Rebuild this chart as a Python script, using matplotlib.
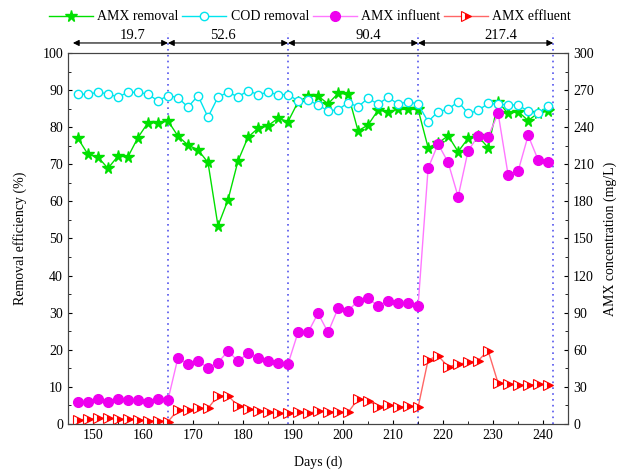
import matplotlib
matplotlib.use("Agg")
import matplotlib.pyplot as plt
import numpy as np
from matplotlib.ticker import MultipleLocator

plt.rcParams['font.family'] = ['Liberation Serif', 'DejaVu Serif']
plt.rcParams['font.size'] = 10

# Jours (un point tous les 2 jours)
days = np.arange(147, 242, 2)

amx_removal = [77.0, 72.7, 72.0, 68.9, 72.2, 72.0, 77.2, 81.2, 81.2, 81.7,
               77.6, 75.2, 73.9, 70.5, 53.4, 60.4, 70.9, 77.3, 79.7, 80.4, 82.4, 81.5,
               86.8, 88.4, 88.4, 86.3, 89.1, 88.9, 79.0, 80.6, 84.6, 84.2, 84.8, 84.8, 84.8,
               74.5, 75.7, 77.7, 73.4, 77.0, 77.5, 74.5, 86.8, 83.7, 84.2, 81.8, 83.8, 84.4]

cod_removal = [88.9, 88.9, 89.4, 89.0, 88.1, 89.4, 89.4, 88.9, 87.1, 88.5,
               88.0, 85.4, 88.5, 82.7, 88.1, 89.4, 88.2, 89.8, 88.8, 89.4, 88.8, 88.8,
               87.1, 87.3, 86.0, 84.4, 84.7, 86.6, 85.5, 87.8, 86.2, 88.1, 86.2, 86.9, 86.2,
               81.5, 84.2, 84.8, 86.9, 83.7, 84.5, 86.4, 86.2, 86.0, 86.0, 84.3, 83.7, 85.6]

amx_influent = [18.0, 17.5, 20.2, 17.5, 20.0, 19.4, 19.4, 18.0, 20.2, 19.4,
                53.6, 48.3, 50.9, 45.5, 49.6, 59.0, 50.9, 57.2, 53.6, 50.9, 49.6, 48.5,
                74.1, 74.1, 89.5, 74.1, 93.5, 91.6, 99.5, 101.6, 95.4, 99.7, 98.1, 98.1, 95.4,
                206.8, 226.4, 211.6, 183.8, 221.0, 232.9, 232.3, 251.2, 201.3, 204.6, 233.3, 213.5, 212.1]

amx_effluent = [3.2, 4.0, 4.6, 4.6, 4.0, 4.0, 3.2, 2.4, 2.4, 1.9,
                11.3, 11.3, 12.7, 12.7, 22.9, 22.9, 14.6, 12.1, 10.5, 9.4, 8.6, 8.6,
                9.4, 8.6, 10.5, 10.0, 9.4, 9.4, 20.2, 18.9, 14.0, 15.4, 13.5, 14.8, 13.5,
                51.8, 55.2, 46.3, 48.3, 49.9, 51.2, 59.3, 32.9, 32.3, 31.5, 31.5, 32.1, 31.5]

# Phases (limites en jours) et charges
phase_bounds = [146, 165, 189, 215, 242]
phase_labels = ["19.7", "52.6", "90.4", "217.4"]
label_pos = [158, 176, 205, 231.6]

fig = plt.figure(figsize=(6.23, 4.71), dpi=100)
ax = fig.add_axes([0.109, 0.0998, 0.803, 0.7877])
ax2 = ax.twinx()

l1, = ax.plot(days, amx_removal, color='#00e000', lw=1, marker='*', ms=8.5,
              mfc='#00e000', mec='#00e000', label='AMX removal')
l2, = ax.plot(days, cod_removal, color='#00e5ee', lw=1, marker='o', ms=6,
              mfc='white', mec='#00e5ee', mew=1, label='COD removal')
l3, = ax2.plot(days, amx_influent, color='#ff77ff', lw=1, marker='o', ms=7,
               mfc='#ee00ee', mec='#ee00ee', label='AMX influent')
l4, = ax2.plot(days, amx_effluent, color='#ff6666', lw=1, marker='>', ms=7,
               mfc='red', mec='red', fillstyle='right', markerfacecoloralt='white',
               mew=0.8, label='AMX effluent')

ax.set_xlim(145, 245)
ax.set_ylim(0, 100)
ax2.set_ylim(0, 300)

ax.xaxis.set_major_locator(MultipleLocator(10))
ax.xaxis.set_minor_locator(MultipleLocator(5))
ax.yaxis.set_major_locator(MultipleLocator(10))
ax.yaxis.set_minor_locator(MultipleLocator(5))
ax2.yaxis.set_major_locator(MultipleLocator(30))
ax2.yaxis.set_minor_locator(MultipleLocator(15))
ax.tick_params(which='both', direction='in', top=False, right=False, labelsize=10)
ax.tick_params(which='major', length=3)
ax.tick_params(which='minor', length=2)
ax2.tick_params(which='both', direction='in', labelsize=10)
ax2.tick_params(which='major', length=3)
ax2.tick_params(which='minor', length=2)
ax.set_xticks(np.arange(150, 241, 10))

for sp in list(ax.spines.values()) + list(ax2.spines.values()):
    sp.set_color('#444444')
    sp.set_linewidth(0.8)

# Lignes verticales de séparation
for b in phase_bounds[1:]:
    ax.plot([b, b], [0, 105.5], color='#5555ee', ls=(0, (1, 2.5)), lw=1.2,
            clip_on=False, zorder=1)

# Flèches des phases au-dessus du graphe
for i in range(len(phase_labels)):
    ax.annotate('', xy=(phase_bounds[i], 102.7), xytext=(phase_bounds[i + 1], 102.7),
                xycoords='data', annotation_clip=False,
                arrowprops=dict(arrowstyle='<|-|>', color='black', lw=0.8,
                                mutation_scale=9, shrinkA=0, shrinkB=0))
    ax.text(label_pos[i], 102.9, phase_labels[i], ha='center', va='bottom',
            fontsize=10.5, clip_on=False)

ax.set_xlabel('Days (d)', fontsize=10, labelpad=10)
ax.set_ylabel('Removal efficiency (%)', fontsize=10, labelpad=11)
ax2.set_ylabel('AMX concentration (mg/L)', fontsize=10, labelpad=7)

fig.legend(handles=[l1, l2, l3, l4], loc='center left', bbox_to_anchor=(0.078, 0.964),
           ncol=4, frameon=False, fontsize=10, handlelength=3.2, handletextpad=0.3,
           columnspacing=0.25, borderaxespad=0, borderpad=0)

fig.savefig('out.png', dpi=100)
